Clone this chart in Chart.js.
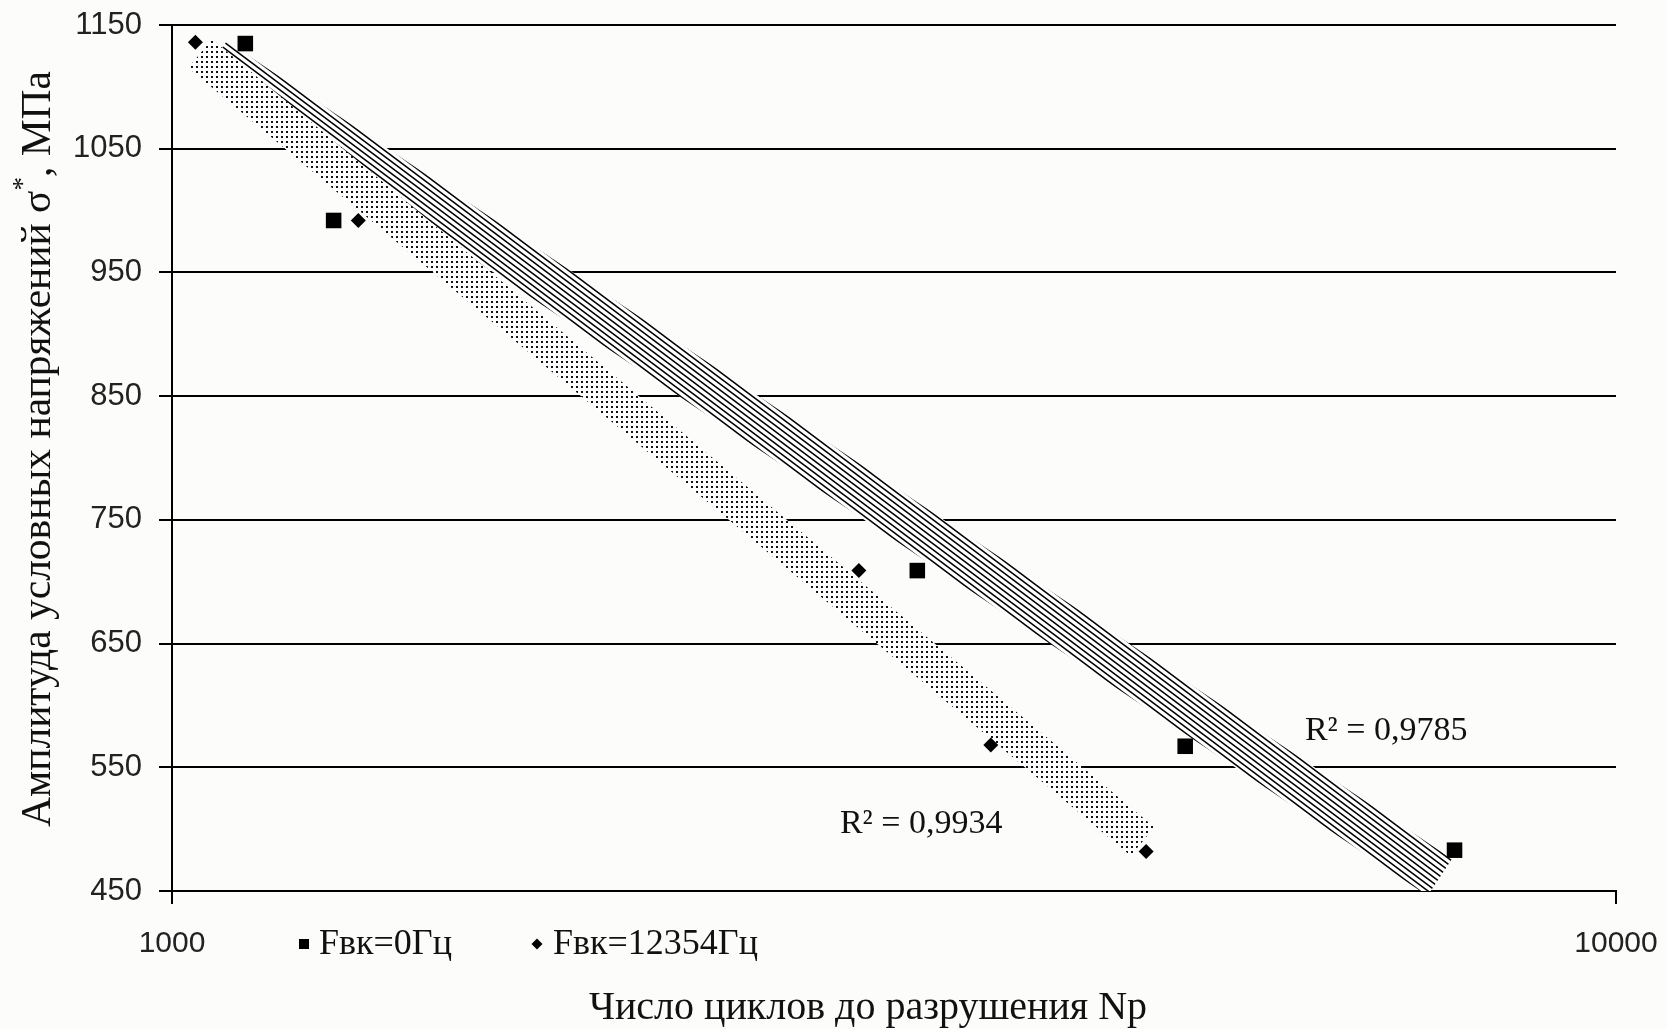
<!DOCTYPE html>
<html><head><meta charset="utf-8">
<script src="https://cdn.jsdelivr.net/npm/chart.js@4.4.1/dist/chart.umd.min.js"></script>
<style>html,body{margin:0;padding:0;background:#fcfcfa;} #wrap{width:1667px;height:1029px;} canvas{display:block;}</style>
</head><body><div id="wrap"><canvas id="c" width="1667" height="1029"></canvas></div>
<script>
// ---- data ----
const seriesNames = ['Fвк=0Гц', 'Fвк=12354Гц'];
const cyclesF0 = [1124, 1294, 3282, 5031, 7730];
const stressF0 = [1135, 992, 709, 567, 483];
const cyclesF1 = [1038, 1346, 2990, 3690, 4727];
const stressF1 = [1136, 992, 709, 568, 482];
const trendCyclesF0 = [1070, 7550];
const trendStressF0 = [1122, 461];
const trendCyclesF1 = [1046, 4700];
const trendStressF1 = [1127, 490];
const rSquaredLabels = ['R² = 0,9785', 'R² = 0,9934'];
const xTickValues = [1000, 10000];
const yTickMin = 450, yTickMax = 1150, yTickStep = 100;
const xTitle = 'Число циклов до разрушения Nр';
const yTitleParts = ['Амплитуда условных напряжений σ', '*', ', МПа'];

// ---- helpers ----
const pts = (xs, ys) => xs.map((x, i) => ({x: x, y: ys[i]}));

function hatchPattern() {
  const c = document.createElement('canvas');
  c.width = 8; c.height = 6;
  const g = c.getContext('2d');
  g.fillStyle = '#ffffff'; g.fillRect(0, 0, 8, 6);
  g.strokeStyle = '#000'; g.lineWidth = 1.5;
  for (let k = -1; k <= 1; k++) {
    g.beginPath(); g.moveTo(-8, -6 + 6 * k); g.lineTo(16, 12 + 6 * k); g.stroke();
  }
  return g.createPattern(c, 'repeat');
}
function dotPattern() {
  const c = document.createElement('canvas');
  c.width = 5; c.height = 5;
  const g = c.getContext('2d');
  g.fillStyle = '#ffffff'; g.fillRect(0, 0, 5, 5);
  g.fillStyle = '#111'; g.fillRect(1, 1, 2, 2);
  return g.createPattern(c, 'repeat');
}

// annotation anchors in data space (N, sigma)
const rLabelAnchors = [{x: 6089, y: 579}, {x: 2901, y: 504}];

const decor = {
  id: 'decor',
  afterDraw(chart) {
    const ctx = chart.ctx, xs = chart.scales.x, ys = chart.scales.y, ca = chart.chartArea;
    ctx.save();
    ctx.fillStyle = '#111';
    // R^2 labels
    ctx.font = '34px "Liberation Serif"';
    ctx.textBaseline = 'middle'; ctx.textAlign = 'left';
    rSquaredLabels.forEach((t, i) => {
      ctx.fillText(t, xs.getPixelForValue(rLabelAnchors[i].x), ys.getPixelForValue(rLabelAnchors[i].y));
    });
    // legend
    const ly = xs.top + 53;
    ctx.fillStyle = '#000';
    ctx.fillRect(ca.left + 127, ly - 5, 10, 10);
    ctx.beginPath();
    ctx.moveTo(ca.left + 365, ly - 5.5); ctx.lineTo(ca.left + 370.5, ly);
    ctx.lineTo(ca.left + 365, ly + 5.5); ctx.lineTo(ca.left + 359.5, ly);
    ctx.closePath(); ctx.fill();
    ctx.fillStyle = '#111';
    ctx.font = '36px "Liberation Serif"';
    ctx.fillText(seriesNames[0], ca.left + 147, ly + 1);
    ctx.fillText(seriesNames[1], ca.left + 381, ly + 1);
    // x title
    ctx.font = '40px "Liberation Serif"';
    ctx.textAlign = 'center';
    ctx.fillText(xTitle, ca.left + 696, xs.top + 117);
    // y title (rotated, with superscript)
    ctx.translate(39, (ca.top + ca.bottom) / 2 - 9);
    ctx.rotate(-Math.PI / 2);
    const big = '41.5px "Liberation Serif"', small = '27px "Liberation Serif"';
    ctx.font = big; const w0 = ctx.measureText(yTitleParts[0]).width, w2 = ctx.measureText(yTitleParts[2]).width;
    ctx.font = small; const w1 = ctx.measureText(yTitleParts[1]).width;
    let x0 = -(w0 + w1 + w2) / 2;
    ctx.textAlign = 'left';
    ctx.font = big; ctx.fillText(yTitleParts[0], x0, 0);
    ctx.font = small; ctx.fillText(yTitleParts[1], x0 + w0, -15);
    ctx.font = big; ctx.fillText(yTitleParts[2], x0 + w0 + w1, 0);
    ctx.restore();
  }
};

const ctx = document.getElementById('c').getContext('2d');
new Chart(ctx, {
  type: 'scatter',
  data: {
    datasets: [
      {label: seriesNames[0], data: pts(cyclesF0, stressF0), pointStyle: 'rect', pointRadius: 11,
       backgroundColor: '#000', borderColor: '#000', borderWidth: 0, order: 0},
      {label: seriesNames[1], data: pts(cyclesF1, stressF1), pointStyle: 'rectRot', pointRadius: 7.5,
       backgroundColor: '#000', borderColor: '#000', borderWidth: 0, order: 0},
      {label: 'trend1', data: pts(trendCyclesF1, trendStressF1), showLine: true, pointRadius: 0, clip: 0,
       borderColor: dotPattern(), borderWidth: 37, borderCapStyle: 'butt', fill: false, order: 1},
      {label: 'trend0', data: pts(trendCyclesF0, trendStressF0), showLine: true, pointRadius: 0, clip: 0,
       borderColor: hatchPattern(), borderWidth: 44, borderCapStyle: 'butt', fill: false, order: 2}
    ]
  },
  options: {
    responsive: false, animation: false, devicePixelRatio: 1,
    layout: {padding: {top: 25, right: 51, left: 0, bottom: 0}},
    plugins: {legend: {display: false}, tooltip: {enabled: false}},
    scales: {
      x: {
        type: 'logarithmic', min: xTickValues[0], max: xTickValues[xTickValues.length - 1],
        afterBuildTicks: s => { s.ticks = xTickValues.map(v => ({value: v})); },
        afterFit: s => { s.height = 138; s.paddingLeft = 0; s.paddingRight = 0; },
        ticks: {callback: v => String(v), font: {family: 'Liberation Sans', size: 30}, color: '#222', padding: 22, maxRotation: 0, autoSkip: false},
        grid: {drawOnChartArea: false, drawTicks: true, tickLength: 13, color: '#000', lineWidth: 2},
        border: {color: '#000', width: 2}
      },
      y: {
        min: yTickMin, max: yTickMax,
        afterFit: s => { s.width = 172; s.paddingTop = 0; s.paddingBottom = 0; },
        ticks: {stepSize: yTickStep, callback: v => String(v), font: {family: 'Liberation Sans', size: 31}, color: '#222', padding: 17},
        grid: {color: '#000', lineWidth: 2, tickLength: 13, drawTicks: true},
        border: {color: '#000', width: 2}
      }
    }
  },
  plugins: [decor]
});
</script></body></html>
